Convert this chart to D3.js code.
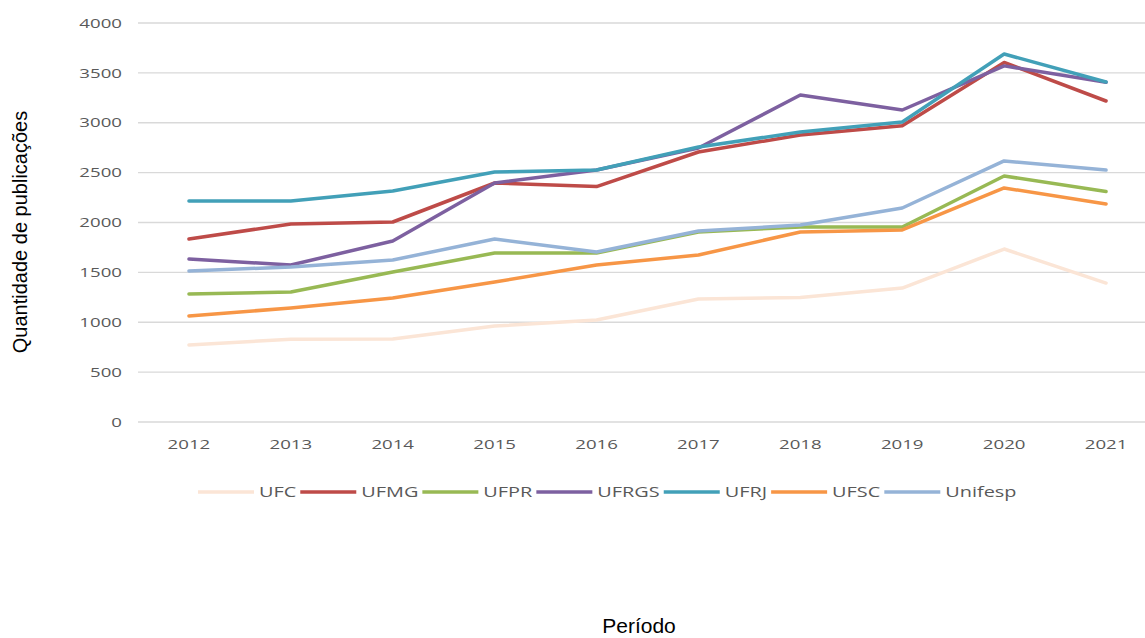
<!DOCTYPE html>
<html>
<head>
<meta charset="utf-8">
<script src="https://cdn.jsdelivr.net/npm/d3@7"></script>
<style>
  body { margin: 0; background: #fff; }
  svg { display: block; }
</style>
</head>
<body>
<svg id="chart"></svg>
<script>
// Publicações por universidade, 2012-2021

const years = ["2012", "2013", "2014", "2015", "2016", "2017", "2018", "2019", "2020", "2021"];
const seriesNames = ["UFC", "UFMG", "UFPR", "UFRGS", "UFRJ", "UFSC", "Unifesp"];
const yTicks = [0, 500, 1000, 1500, 2000, 2500, 3000, 3500, 4000];

const ufc = [772, 830, 832, 962, 1022, 1233, 1248, 1343, 1734, 1393];
const ufmg = [1835, 1985, 2005, 2396, 2360, 2707, 2877, 2970, 3605, 3218];
const ufpr = [1283, 1303, 1504, 1694, 1694, 1905, 1955, 1955, 2466, 2310];
const ufrgs = [1634, 1574, 1815, 2396, 2526, 2747, 3278, 3128, 3570, 3405];
const ufrj = [2216, 2216, 2316, 2506, 2526, 2757, 2907, 3008, 3689, 3409];
const ufsc = [1063, 1143, 1243, 1403, 1574, 1674, 1905, 1925, 2346, 2186];
const unifesp = [1514, 1554, 1624, 1835, 1704, 1915, 1975, 2145, 2617, 2526];

const colors = ["#fbe5d6", "#be4b48", "#98b954", "#7d60a0", "#42a0b8", "#f79646", "#95b3d7"];

const seriesData = [ufc, ufmg, ufpr, ufrgs, ufrj, ufsc, unifesp];

const W = 1145, H = 638;
const LEFT = 138, RIGHT = 1157, TOP = 23, BOTTOM = 422;
const TICK_COLOR = "#595959";
const STRETCH = 1.38; // the excel picture is stretched horizontally

const svg = d3.select("#chart").attr("width", W).attr("height", H);

const x = d3.scalePoint().domain(years).range([LEFT, RIGHT]).padding(0.5);
const y = d3.scaleLinear().domain([0, 4000]).range([BOTTOM, TOP]);

// stretch a text node horizontally like the reference
function stretch(sel, factor) {
    sel.each(function () {
        const len = this.getComputedTextLength();
        d3.select(this)
            .attr("textLength", len * factor)
            .attr("lengthAdjust", "spacingAndGlyphs");
    });
}

// Gridlines
svg.append("g")
    .selectAll("line")
    .data(yTicks)
    .join("line")
    .attr("x1", LEFT).attr("x2", W)
    .attr("y1", d => y(d)).attr("y2", d => y(d))
    .attr("stroke", "#d9d9d9")
    .attr("stroke-width", 1.3);

// Y tick labels
const yLabels = svg.append("g")
    .selectAll("text")
    .data(yTicks)
    .join("text")
    .attr("x", 122)
    .attr("y", d => y(d))
    .attr("dy", "0.35em")
    .attr("text-anchor", "end")
    .attr("font-family", "Open Sans, sans-serif")
    .attr("font-size", "13.5px")
    .attr("fill", TICK_COLOR)
    .text(d => d);
stretch(yLabels, STRETCH);

// X tick labels
const xLabels = svg.append("g")
    .selectAll("text")
    .data(years)
    .join("text")
    .attr("x", d => x(d))
    .attr("y", 444)
    .attr("dy", "0.35em")
    .attr("text-anchor", "middle")
    .attr("font-family", "Open Sans, sans-serif")
    .attr("font-size", "13.5px")
    .attr("fill", TICK_COLOR)
    .text(d => d);
stretch(xLabels, STRETCH);

// Lines
const line = d3.line()
    .x((d, i) => x(years[i]))
    .y(d => y(d));

svg.append("g")
    .selectAll("path")
    .data(seriesData)
    .join("path")
    .attr("d", d => line(d))
    .attr("fill", "none")
    .attr("stroke", (d, i) => colors[i])
    .attr("stroke-width", 3.5)
    .attr("stroke-linejoin", "round")
    .attr("stroke-linecap", "round");

// Legend
const legend = svg.append("g").attr("class", "legend");
let lx = 198;
const LEGEND_Y = 492;
seriesNames.forEach((name, i) => {
    legend.append("line")
        .attr("x1", lx).attr("x2", lx + 56)
        .attr("y1", LEGEND_Y).attr("y2", LEGEND_Y)
        .attr("stroke", colors[i])
        .attr("stroke-width", 3.5);
    const t = legend.append("text")
        .attr("x", lx + 61)
        .attr("y", LEGEND_Y)
        .attr("dy", "0.35em")
        .attr("font-family", "Open Sans, sans-serif")
        .attr("font-size", "14px")
        .attr("fill", TICK_COLOR)
        .text(name);
    stretch(t, 1.42);
    lx += 61 + (+t.attr("textLength")) + 4;
});

// Axis titles
svg.append("text")
    .attr("transform", "translate(27, 232) rotate(-90)")
    .attr("text-anchor", "middle")
    .attr("font-family", "Liberation Sans, Arial, sans-serif")
    .attr("font-size", "20px")
    .attr("fill", "#000")
    .text("Quantidade de publicações");

svg.append("text")
    .attr("x", 639)
    .attr("y", 633)
    .attr("text-anchor", "middle")
    .attr("font-family", "Liberation Sans, Arial, sans-serif")
    .attr("font-size", "21px")
    .attr("fill", "#000")
    .text("Período");
</script>
</body>
</html>
